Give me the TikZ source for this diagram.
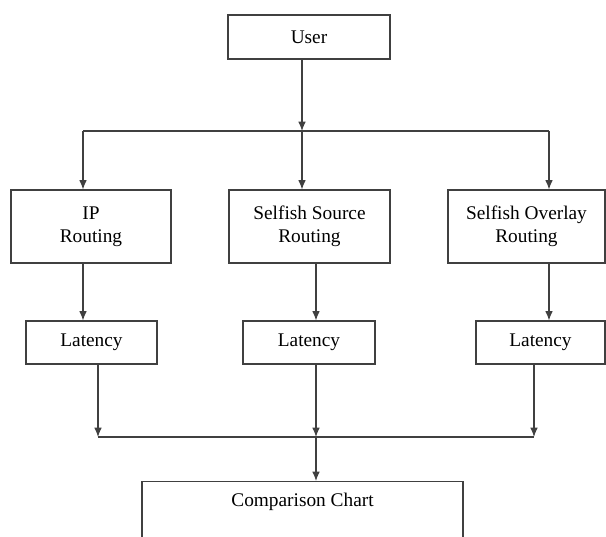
\documentclass[tikz,border=0pt]{standalone}
\usepackage{fontspec}
\setmainfont{Liberation Serif}
\usetikzlibrary{arrows.meta}
\tikzset{
  box/.style={draw=black!75, line width=0.9pt, fill=white, align=center,
    inner sep=0pt, font=\fontsize{16.5}{19.6}\selectfont},
}
\begin{document}
\begin{tikzpicture}[>={Latex[length=8pt,width=6.5pt]}, x=0.03cm, y=-0.03cm, line width=0.9pt, draw=black!75]
  \useasboundingbox (0,0) rectangle (606,537);
  % top
  \node[box, minimum width=162*0.03cm, minimum height=44*0.03cm] (user) at (309,37) {User};
  % routing boxes
  \node[box, minimum width=160*0.03cm, minimum height=73*0.03cm] (ip) at (91,226.5) {IP\\Routing};
  \node[box, minimum width=161*0.03cm, minimum height=73*0.03cm] (src) at (309.5,226.5) {Selfish Source\\Routing};
  \node[box, minimum width=157*0.03cm, minimum height=73*0.03cm] (ovl) at (526.5,226.5) {Selfish Overlay\\Routing};
  % latency boxes
  \node[box, minimum width=131*0.03cm, minimum height=43*0.03cm] (lat1) at (91.5,342.5) {Latency};
  \node[box, minimum width=132*0.03cm, minimum height=43*0.03cm] (lat2) at (309,342.5) {Latency};
  \node[box, minimum width=129*0.03cm, minimum height=43*0.03cm] (lat3) at (540.5,342.5) {Latency};
  % chart, cut by the page
  \node[box, minimum width=321*0.03cm, minimum height=90*0.03cm, anchor=north] (chart) at (302.5,481) {};
  \node[font=\fontsize{16.5}{19.6}\selectfont, anchor=base] (charttxt) at (302.5,506) {Comparison Chart};
  % junctions
  \coordinate (top) at (302,131);
  \coordinate (tl) at (83,131);
  \coordinate (tr) at (549,131);
  \coordinate (mid) at (316,437);
  \coordinate (bl) at (98,437);
  \coordinate (br) at (534,437);
  % user to routing
  \draw[->] (user.south -| top) -- (top);
  \draw (tl) -- (tr);
  \draw[->] (tl) -- (tl |- ip.north);
  \draw[->] (top) -- (top |- src.north);
  \draw[->] (tr) -- (tr |- ovl.north);
  % routing to latency
  \draw[->] (tl |- ip.south) -- (tl |- lat1.north);
  \draw[->] (mid |- src.south) -- (mid |- lat2.north);
  \draw[->] (tr |- ovl.south) -- (tr |- lat3.north);
  % latency to chart
  \draw[->] (bl |- lat1.south) -- (bl);
  \draw[->] (mid |- lat2.south) -- (mid);
  \draw[->] (br |- lat3.south) -- (br);
  \draw (bl) -- (br);
  \draw[->] (mid) -- (mid |- chart.north);
\end{tikzpicture}
\end{document}
